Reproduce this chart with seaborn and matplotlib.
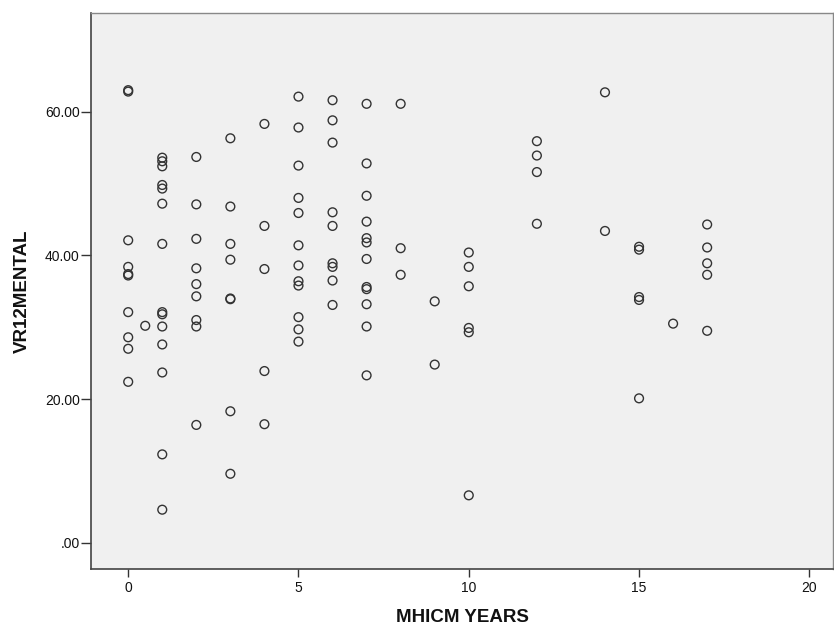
import matplotlib
matplotlib.use("Agg")
import matplotlib.pyplot as plt
import seaborn as sns
import pandas as pd

# MHICM years (x) and VR12 mental score (y), one entry per respondent
years = (
    [0] * 10
    + [0.5]
    + [1] * 14
    + [2] * 9
    + [3] * 8
    + [4] * 5
    + [5] * 12
    + [6] * 9
    + [7] * 12
    + [8] * 3
    + [9] * 2
    + [10] * 6
    + [12] * 4
    + [14] * 2
    + [15] * 5
    + [16]
    + [17] * 5
)
vr12mental = (
    [63.0, 62.8, 42.1, 38.4, 37.4, 37.2, 32.1, 28.6, 27.0, 22.4]
    + [30.2]
    + [53.6, 53.1, 52.4, 49.8, 49.3, 47.2, 41.6, 32.1, 31.8, 30.1, 27.6, 23.7, 12.3, 4.6]
    + [53.7, 47.1, 42.3, 38.2, 36.0, 34.3, 31.0, 30.1, 16.4]
    + [56.3, 46.8, 41.6, 39.4, 34.0, 33.9, 18.3, 9.6]
    + [58.3, 44.1, 38.1, 23.9, 16.5]
    + [62.1, 57.8, 52.5, 48.0, 45.9, 41.4, 38.6, 36.4, 35.8, 31.4, 29.7, 28.0]
    + [61.6, 58.8, 55.7, 46.0, 44.1, 38.9, 38.4, 36.5, 33.1]
    + [61.1, 52.8, 48.3, 44.7, 42.4, 41.8, 39.5, 35.6, 35.3, 33.2, 30.1, 23.3]
    + [61.1, 41.0, 37.3]
    + [33.6, 24.8]
    + [40.4, 38.4, 35.7, 29.9, 29.3, 6.6]
    + [55.9, 53.9, 51.6, 44.4]
    + [62.7, 43.4]
    + [41.2, 40.8, 34.2, 33.8, 20.1]
    + [30.5]
    + [44.3, 41.1, 38.9, 37.3, 29.5]
)
x_ticks = [0, 5, 10, 15, 20]
y_ticks = [0, 20, 40, 60]
y_tick_labels = [".00", "20.00", "40.00", "60.00"]

df = pd.DataFrame({"MHICM YEARS": years, "VR12MENTAL": vr12mental})

sns.set_style("white")
plt.rcParams["font.family"] = ["Liberation Sans", "DejaVu Sans"]

fig = plt.figure(figsize=(8.34, 6.27), dpi=100)
ax = fig.add_axes([0.1088, 0.092, 0.8902, 0.8868])
ax.set_facecolor("#f0f0f0")

sns.scatterplot(
    data=df, x="MHICM YEARS", y="VR12MENTAL", ax=ax,
    marker="o", s=40, facecolors="none", edgecolor="#333333", linewidth=1.0,
)

ax.set_xlim(-1.1, 20.7)
ax.set_ylim(-3.7, 73.7)
ax.set_xticks(x_ticks)
ax.set_yticks(y_ticks)
ax.set_yticklabels(y_tick_labels)
ax.tick_params(axis="x", bottom=True, direction="out", length=5.5, width=1,
               color="#333333", labelsize=10, labelcolor="#111111", pad=3)
ax.tick_params(axis="y", left=True, direction="out", length=7, width=1,
               color="#333333", labelsize=10, labelcolor="#111111", pad=1)
ax.set_xlabel("MHICM YEARS", fontsize=13.5, fontweight="bold", labelpad=10,
              color="#111111")
ax.set_ylabel("VR12MENTAL", fontsize=13.5, fontweight="bold", labelpad=10,
              color="#111111")

for side in ["left", "bottom"]:
    ax.spines[side].set_color("#444444")
    ax.spines[side].set_linewidth(1.2)
for side in ["top", "right"]:
    ax.spines[side].set_color("#888888")
    ax.spines[side].set_linewidth(1.0)

fig.savefig("out.png", dpi=100)
